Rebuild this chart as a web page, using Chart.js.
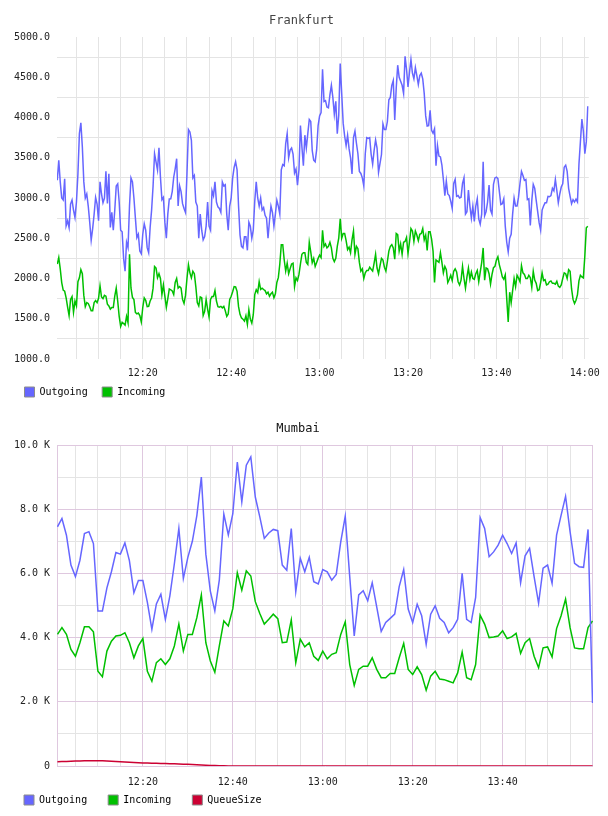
<!DOCTYPE html>
<html>
<head>
<meta charset="utf-8">
<title>Traffic</title>
<script src="https://cdn.jsdelivr.net/npm/chart.js@4"></script>
<style>
	body { margin: 0; background: #fff; }
	canvas { display: block; }
</style>
</head>
<body>
<canvas id="frankfurt" width="608" height="408"></canvas>
<canvas id="mumbai" width="608" height="408"></canvas>
<script>
// Frankfurt samples every 20 s starting 12:00:40, Mumbai every minute starting 12:01
const frankfurtStart = 40 / 60
const frankfurtStep = 20 / 60
const mumbaiStart = 1
const mumbaiStep = 1

const frankfurtOutgoing = [
	3220, 3467, 3200, 3000, 2975, 3238, 2654, 2717, 2633, 2925,
	2975, 2850, 2758, 2950, 3300, 3800, 3933, 3633, 3200, 3000,
	3050, 2900, 2700, 2475, 2620, 2800, 3008, 2925, 2717, 3200,
	3050, 2940, 3000, 3333, 2933, 3300, 2633, 2821, 2600, 2850,
	3150, 3175, 2950, 2600, 2580, 2250, 2092, 2450, 2383, 2900,
	3250, 3200, 3000, 2750, 2508, 2550, 2342, 2308, 2550, 2680,
	2600, 2383, 2321, 2633, 2850, 3150, 3550, 3450, 3350, 3625,
	3258, 2980, 3008, 2700, 2500, 2800, 2988, 2990, 3080, 3258,
	3363, 3488, 2900, 3150, 3080, 2930, 2870, 2820, 3300, 3850,
	3821,
	3717, 3250, 3280, 2950, 2900, 2500, 2800, 2600, 2480, 2520,
	2650, 2950, 2650, 2600, 3092, 3029, 3200, 2950, 2890, 2870,
	2821, 3200, 3150, 3165, 2800, 2600, 2900, 3000, 3250, 3380,
	3450, 3350, 2900, 2540, 2400, 2380, 2520, 2520, 2350, 2700,
	2650, 2500, 2600, 2960, 3200, 3000, 2900, 3000, 2850, 2880,
	2785, 2750, 2500, 2717, 2900, 2820, 2650, 2800, 2972, 2900,
	2800, 3350, 3415, 3400, 3675, 3800, 3500, 3595, 3620, 3545,
	3310, 3360, 3160, 3350, 3900, 3633, 3400, 3780, 3620, 3800,
	3975, 3950, 3590, 3470, 3450, 3600, 3900, 4020, 4060, 4600,
	4200, 4210, 4130, 4120, 4280, 4400, 4250, 4040, 4200, 3800,
	4030, 4670, 4300, 3930, 3770, 3650, 3780, 3613, 3500, 3300,
	3750, 3830, 3680, 3550, 3330, 3305, 3250, 3150, 3550, 3750,
	3740, 3750, 3540, 3420, 3590, 3720, 3620, 3320, 3430, 3540,
	3920, 3850, 3850, 3950, 4220, 4250, 4400, 4460, 3970, 4363,
	4650, 4500, 4450, 4400, 4300, 4760, 4600, 4380, 4560, 4720,
	4550, 4480, 4620, 4520, 4410, 4520, 4550, 4480, 4300, 4020,
	3895, 3900, 4090, 3842, 3805, 3860, 3400, 3650, 3520, 3510,
	3410, 3230, 3030, 3210, 3050, 3030, 2960, 2870, 3180, 3230,
	3020, 3030, 3000, 3010, 3180, 3250, 2800, 2830, 3100, 2900,
	2750, 2900, 2710, 2900, 2990, 2740, 2675, 2800, 3450, 2780,
	2830, 2950, 3160, 2850, 2800, 3170, 3250, 3260, 3240, 3080,
	2920, 2930, 2990, 2650, 2450, 2330, 2500, 2550, 2800, 3000,
	2900, 2900, 3010, 3180, 3330, 3280, 3220, 3230, 2980, 2990,
	2660, 2967, 3170, 3120, 2970, 2830, 2690, 2600, 2850, 2900,
	2940, 2940, 3020, 3015, 3030, 3120, 3090, 3230, 3092, 2940,
	3050, 3136, 3175, 3383, 3408, 3330, 3120, 3020, 2930, 2980,
	2950, 2985, 2950, 3420, 3700, 3980, 3830, 3550, 3700, 4140,
]

const frankfurtIncoming = [
	2180, 2260, 2120, 1950, 1855, 1842, 1760, 1645, 1540, 1740,
	1775, 1580, 1720, 1660, 1960, 2008, 2110, 2060, 1790, 1650,
	1700, 1690, 1650, 1600, 1600, 1700, 1725, 1700, 1755, 1910,
	1770, 1750, 1790, 1780, 1680, 1660, 1620, 1640, 1640, 1780,
	1880, 1720, 1530, 1404, 1455, 1440, 1420, 1530, 1450, 2300,
	1883, 1765, 1738, 1580, 1560, 1570, 1540, 1460, 1640, 1760,
	1730, 1650, 1655, 1720, 1758, 1880, 2150, 2130, 2010, 2060,
	2000, 1800, 1920, 1780, 1640, 1750, 1870, 1860, 1845, 1800,
	1950, 2000, 1880, 1900, 1880, 1740, 1690, 1790, 2000, 2170,
	2070,
	2008, 2090, 2060, 1900, 1700, 1660, 1770, 1760, 1540, 1592,
	1740, 1620, 1520, 1740, 1775, 1775, 1850, 1720, 1650, 1645,
	1654, 1635, 1654, 1600, 1530, 1560, 1740, 1779, 1835, 1900,
	1895, 1840, 1650, 1554, 1510, 1495, 1470, 1538, 1430, 1610,
	1495, 1445, 1550, 1800, 1860, 1825, 1960, 1865, 1880, 1863,
	1850, 1810, 1830, 1780, 1810, 1830, 1760, 1810, 1950, 2010,
	2180, 2420, 2420, 2230, 2092, 2190, 2060, 2120, 2180, 2190,
	1900, 2008, 1975, 2050, 2180, 2300, 2320, 2320, 2200, 2175,
	2450, 2330, 2196, 2250, 2150, 2200, 2250, 2290, 2260, 2600,
	2400, 2430, 2380, 2400, 2450, 2380, 2250, 2210, 2250, 2400,
	2500, 2740, 2500, 2560, 2560, 2470, 2360, 2390, 2320, 2480,
	2590, 2300, 2400, 2370, 2200, 2090, 2120, 2000, 2070, 2100,
	2100, 2140, 2115, 2092, 2190, 2300, 2130, 2060, 2160, 2250,
	2230, 2140, 2092, 2210, 2340, 2400, 2420, 2380, 2240, 2560,
	2545, 2340, 2430, 2300, 2450, 2460, 2510, 2310, 2450, 2620,
	2590, 2460, 2590, 2540, 2470, 2550, 2560, 2620, 2480, 2540,
	2350, 2580, 2580, 2490, 2340, 1950, 2230, 2215, 2200, 2320,
	2200, 2070, 2150, 2110, 1950, 1990, 2040, 1975, 2090, 2120,
	2080, 1960, 1920, 1980, 2150, 2000, 1880, 2020, 2130, 1990,
	2080, 2000, 1990, 2060, 2100, 1960, 2080, 2196, 2380, 1980,
	2130, 2120, 2060, 1930, 2050, 2135, 2150, 2230, 2270, 2170,
	2100, 2020, 1990, 2045, 1750, 1460, 1830, 1700, 1850, 2000,
	1900, 2040, 2005, 1960, 2160, 2070, 2050, 2000, 2000, 2040,
	2010, 1890, 2090, 1980, 1940, 1850, 1860, 1950, 2070, 1975,
	1985, 1920, 1930, 1960, 1970, 1940, 1940, 1930, 1965, 1905,
	1890, 1920, 2000, 2070, 2060, 2000, 2110, 2090, 1870, 1740,
	1690, 1730, 1800, 1970, 2040, 2020, 2008, 2280, 2630, 2650,
]

const mumbaiOutgoing = [
	7450, 7710, 7190, 6260, 5900, 6410, 7240, 7300, 6930, 4830,
	4830, 5550, 6050, 6650, 6600, 6950, 6400, 5400, 5780, 5780,
	5100, 4260, 5050, 5350, 4570, 5300, 6300, 7400, 5840, 6500,
	7000, 7800, 9000, 6600, 5450, 4830, 5800, 7850, 7200, 7860,
	9470, 8230, 9370, 9630, 8380, 7760, 7090, 7260, 7370, 7330,
	6260, 6100, 7400, 5430, 6470, 6050, 6500, 5740, 5670, 6120,
	6050, 5790, 5970, 6980, 7780, 5900, 4050, 5330, 5460, 5150,
	5710, 4960, 4190, 4470, 4600, 4730, 5590, 6120, 4890, 4470,
	5040, 4680, 3790, 4730, 4990, 4600, 4470, 4150, 4310, 4570,
	6000, 4570, 4470, 5250, 7740, 7400, 6520, 6670, 6880, 7190,
	6930, 6620, 6950, 5710, 6550, 6780, 5900, 5070, 6160, 6260,
	5690, 7190, 7810, 8400, 7300, 6310, 6210, 6190, 7370, 1960,
]

const mumbaiIncoming = [
	4100, 4310, 4100, 3630, 3420, 3840, 4340, 4340, 4180, 2950,
	2780, 3580, 3890, 4050, 4070, 4150, 3840, 3370, 3740, 3970,
	2950, 2640, 3220, 3340, 3160, 3340, 3740, 4420, 3580, 4100,
	4100, 4620, 5330, 3840, 3270, 2920, 3740, 4520, 4360, 4900,
	6020, 5480, 6080, 5920, 5120, 4750, 4420, 4570, 4730, 4590,
	3840, 3860, 4550, 3220, 3950, 3710, 3840, 3420, 3290, 3580,
	3340, 3480, 3530, 4100, 4490, 3160, 2510, 3010, 3110, 3110,
	3370, 3010, 2750, 2750, 2880, 2880, 3370, 3820, 3010, 2850,
	3090, 2850, 2360, 2800, 2950, 2710, 2690, 2640, 2590, 2900,
	3550, 2750, 2690, 3160, 4700, 4420, 4000, 4020, 4050, 4210,
	3970, 4020, 4130, 3510, 3840, 3970, 3420, 3060, 3680, 3710,
	3400, 4280, 4680, 5200, 4310, 3680, 3650, 3650, 4310, 4520,
]

const mumbaiQueueSize = [
	136, 140, 144, 148, 152, 156, 160, 163, 166, 167,
	160, 153, 146, 139, 132, 125, 118, 111, 104, 96,
	92, 88, 84, 80, 76, 72, 67, 62, 57, 52,
	46, 40, 33, 26, 19, 12, 8, 5, 2, 0,
	0, 0, 0, 0, 0, 0, 0, 0, 0, 0,
	0, 0, 0, 0, 0, 0, 0, 0, 0, 0,
	0, 0, 0, 0, 0, 0, 0, 0, 0, 0,
	0, 0, 0, 0, 0, 0, 0, 0, 0, 0,
	0, 0, 0, 0, 0, 0, 0, 0, 0, 0,
	0, 0, 0, 0, 0, 0, 0, 0, 0, 0,
	0, 0, 0, 0, 0, 0, 0, 0, 0, 0,
	0, 0, 0, 0, 0, 0, 0, 0, 0, 0,
]

// minutes after 12:00 where vertical grid lines go
const frankfurtTimeTicks = [5, 10, 15, 20, 25, 30, 35, 40, 45, 50, 55, 60, 65, 70, 75, 80, 85, 90, 95, 100, 105, 110, 115, 120]
const mumbaiTimeTicks = [5, 10, 15, 20, 25, 30, 35, 40, 45, 50, 55, 60, 65, 70, 75, 80, 85, 90, 95, 100, 105, 110, 115]
const frankfurtValueTicks = [1000, 1250, 1500, 1750, 2000, 2250, 2500, 2750, 3000, 3250, 3500, 3750, 4000, 4250, 4500, 4750, 5000]
const mumbaiValueTicks = [0, 1000, 2000, 3000, 4000, 5000, 6000, 7000, 8000, 9000, 10000]

const OUT_COLOR = "#6666ff"
const IN_COLOR = "#00c000"
const QUEUE_COLOR = "#cc0033"
const GRID = "#e4e4e4"
const PURPLE = "#dfc8df"
const MONO = "'DejaVu Sans Mono', monospace"

const timeLabel = v => {
	const h = 12 + Math.floor(v / 60)
	const m = v % 60
	return h + ":" + (m < 10 ? "0" : "") + m
}

const points = (values, start, step) => values.map((y, i) => ({ x: start + i * step, y: y }))

const lineSet = (label, color, data) => ({
	label: label,
	data: data,
	borderColor: color,
	backgroundColor: color,
	borderWidth: 1.5,
	pointRadius: 0,
	tension: 0,
	fill: false,
})

const framePlugin = {
	id: "frame",
	// the time labels sit over the legend's top padding, so let them draw past the axis box
	afterLayout(chart) {
		chart.scales.x.bottom = chart.height
	},
	beforeDatasetsDraw(chart, args, opts) {
		if (!opts.color) return
		const { ctx, chartArea } = chart
		ctx.save()
		ctx.strokeStyle = opts.color
		ctx.lineWidth = 1
		ctx.beginPath()
		ctx.moveTo(chartArea.left, chartArea.top + 0.5)
		ctx.lineTo(chartArea.right - 0.5, chartArea.top + 0.5)
		ctx.lineTo(chartArea.right - 0.5, chartArea.bottom)
		ctx.stroke()
		ctx.restore()
	},
}

function makeChart(canvas, opts) {
	return new Chart(canvas, {
		type: "line",
		data: { datasets: opts.datasets },
		plugins: [framePlugin],
		options: {
			responsive: false,
			animation: false,
			devicePixelRatio: 1,
			layout: { padding: { left: opts.padLeft, right: 15, top: 0, bottom: 1 } },
			plugins: {
				frame: { color: opts.frame },
				tooltip: { enabled: false },
				title: {
					display: true,
					text: opts.title,
					color: opts.titleColor,
					font: { family: MONO, size: 12, weight: "normal" },
					padding: { top: 14, bottom: 8.6 },
				},
				legend: {
					position: "bottom",
					align: "start",
					labels: {
						boxWidth: 10,
						boxHeight: 10,
						padding: opts.legendPad,
						color: "#000",
						font: { family: MONO, size: 10 },
						generateLabels: chart => chart.data.datasets.map((d, i) => ({
							text: d.label,
							fillStyle: d.borderColor,
							strokeStyle: "#8c8c8c",
							lineWidth: 1,
							datasetIndex: i,
							hidden: false,
						})),
					},
				},
			},
			scales: {
				x: {
					type: "linear",
					min: opts.xMin,
					max: opts.xMax,
					afterBuildTicks: s => { s.ticks = opts.xTicks.map(v => ({ value: v })) },
					afterFit: s => { s.height = opts.xHeight },
					border: { display: false },
					grid: { drawTicks: false, color: opts.xGrid },
					ticks: {
						autoSkip: false,
						maxRotation: 0,
						padding: opts.xPad,
						color: "#222",
						font: { family: MONO, size: 10 },
						callback: v => v % 20 === 0 ? timeLabel(v) : "",
					},
				},
				y: {
					min: opts.yMin,
					max: opts.yMax,
					afterBuildTicks: s => { s.ticks = opts.yTicks.map(v => ({ value: v })) },
					afterFit: s => { s.width = 57 - opts.padLeft },
					border: opts.yBorder,
					grid: { drawTicks: false, color: opts.yGrid },
					ticks: {
						padding: 7,
						color: "#222",
						font: { family: MONO, size: 10 },
						callback: opts.yLabel,
					},
				},
			},
		},
	})
}

makeChart(document.getElementById("frankfurt"), {
	title: "Frankfurt",
	titleColor: "#444",
	padLeft: 10,
	legendPad: 14.5,
	xMin: 0.6,
	xMax: 120.9,
	xTicks: frankfurtTimeTicks,
	xHeight: 13.5,
	xPad: 8,
	xGrid: GRID,
	yMin: 1000,
	yMax: 5000,
	yTicks: frankfurtValueTicks,
	yBorder: { display: false },
	yGrid: c => c.tick.value % 500 === 0 ? "rgba(0,0,0,0)" : GRID,
	yLabel: v => v % 500 === 0 ? v.toFixed(1) : "",
	datasets: [
		lineSet("Outgoing", OUT_COLOR, points(frankfurtOutgoing, frankfurtStart, frankfurtStep)),
		lineSet("Incoming", IN_COLOR, points(frankfurtIncoming, frankfurtStart, frankfurtStep)),
	],
})

makeChart(document.getElementById("mumbai"), {
	title: "Mumbai",
	titleColor: "#111",
	frame: PURPLE,
	padLeft: 3,
	legendPad: 21,
	xMin: 0.9,
	xMax: 120.1,
	xTicks: mumbaiTimeTicks,
	xHeight: 8,
	xPad: 10,
	xGrid: c => c.tick.value % 20 === 0 ? PURPLE : GRID,
	yMin: 0,
	yMax: 10000,
	yTicks: mumbaiValueTicks,
	yBorder: { display: true, color: PURPLE },
	yGrid: c => c.tick.value % 2000 === 0 ? PURPLE : GRID,
	yLabel: v => v === 0 ? "0" : v % 2000 === 0 ? (v / 1000).toFixed(1) + " K" : "",
	datasets: [
		lineSet("Outgoing", OUT_COLOR, points(mumbaiOutgoing, mumbaiStart, mumbaiStep)),
		lineSet("Incoming", IN_COLOR, points(mumbaiIncoming, mumbaiStart, mumbaiStep)),
		lineSet("QueueSize", QUEUE_COLOR, points(mumbaiQueueSize, mumbaiStart, mumbaiStep)),
	],
})
</script>
</body>
</html>
